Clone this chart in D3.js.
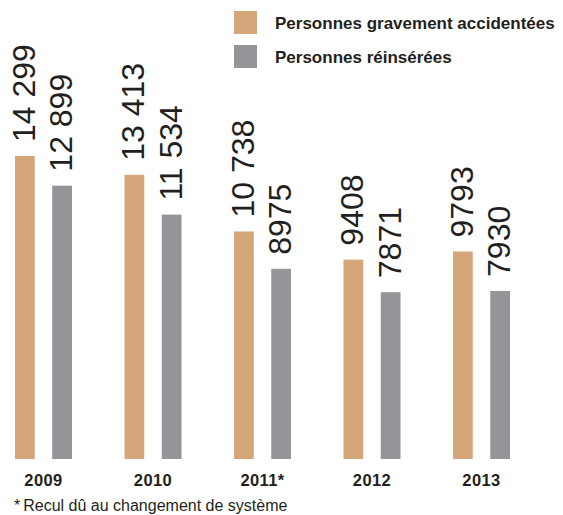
<!DOCTYPE html>
<html>
<head>
<meta charset="utf-8">
<script src="https://cdn.jsdelivr.net/npm/d3@7"></script>
<style>
html,body{margin:0;padding:0;background:#fff;}
svg{display:block;font-family:"Liberation Sans",Arial,Helvetica,sans-serif;}
</style>
</head>
<body>
<svg id="chart" width="563" height="515"></svg>
<script>
const years = ["2009", "2010", "2011*", "2012", "2013"];
const seriesNames = ["Personnes gravement accidentées", "Personnes réinsérées"];
const accidentees = [14299, 13413, 10738, 9408, 9793];
const reinserees = [12899, 11534, 8975, 7871, 7930];
const valueLabels1 = ["14 299", "13 413", "10 738", "9408", "9793"];
const valueLabels2 = ["12 899", "11 534", "8975", "7871", "7930"];
const colors = ["#d4a67a", "#939598"];
const footnoteMark = "*";
const footnoteText = "Recul dû au changement de système";

const svg = d3.select("#chart");
const textColor = "#231f20";

const x0 = d3.scaleBand().domain(years).range([-11.25, 536.25]).paddingInner(0).paddingOuter(0);
const x1 = d3.scaleBand().domain([0, 1]).range([26.25, 83.25]).paddingInner(0.47).paddingOuter(0);
const y = d3.scaleLinear().domain([0, 14299]).range([459, 156]);

const data = years.map((yr, i) => ({
  year: yr,
  vals: [
    {s: 0, v: accidentees[i], label: valueLabels1[i]},
    {s: 1, v: reinserees[i], label: valueLabels2[i]}
  ]
}));

const g = svg.selectAll("g.grp").data(data).enter().append("g")
  .attr("class", "grp")
  .attr("transform", d => `translate(${x0(d.year)},0)`);

g.selectAll("rect").data(d => d.vals).enter().append("rect")
  .attr("x", d => x1(d.s))
  .attr("width", x1.bandwidth())
  .attr("y", d => y(d.v))
  .attr("height", d => y(0) - y(d.v))
  .attr("fill", d => colors[d.s]);

g.selectAll("text.val").data(d => d.vals).enter().append("text")
  .attr("class", "val")
  .attr("transform", d => `translate(${x1(d.s) + x1.bandwidth()},${y(d.v) - 14}) rotate(-90)`)
  .attr("font-size", 32)
  .attr("fill", textColor)
  .text(d => d.label);

// x axis labels
const xAxis = d3.axisBottom(x0).tickSize(0).tickPadding(0);
const ax = svg.append("g").attr("transform", "translate(0,474)").call(xAxis);
ax.select(".domain").remove();
ax.selectAll("text")
  .attr("font-family", "Liberation Sans, Arial, sans-serif")
  .attr("font-size", 16.5)
  .attr("font-weight", "bold")
  .attr("letter-spacing", 0.4)
  .attr("fill", textColor)
  .attr("dy", "0.71em");

// legend
const leg = svg.append("g");
seriesNames.forEach((name, i) => {
  leg.append("rect").attr("x", 234).attr("y", 11 + i * 34).attr("width", 23).attr("height", 23).attr("fill", colors[i]);
  leg.append("text").attr("x", 275).attr("y", 28.5 + i * 34)
    .attr("font-size", 17).attr("font-weight", "bold").attr("fill", textColor).text(name);
});

// footnote
const fn = svg.append("text").attr("x", 14).attr("y", 511).attr("font-size", 16).attr("fill", textColor);
fn.append("tspan").text(footnoteMark);
fn.append("tspan").attr("dx", 3).text(footnoteText);
</script>
</body>
</html>
